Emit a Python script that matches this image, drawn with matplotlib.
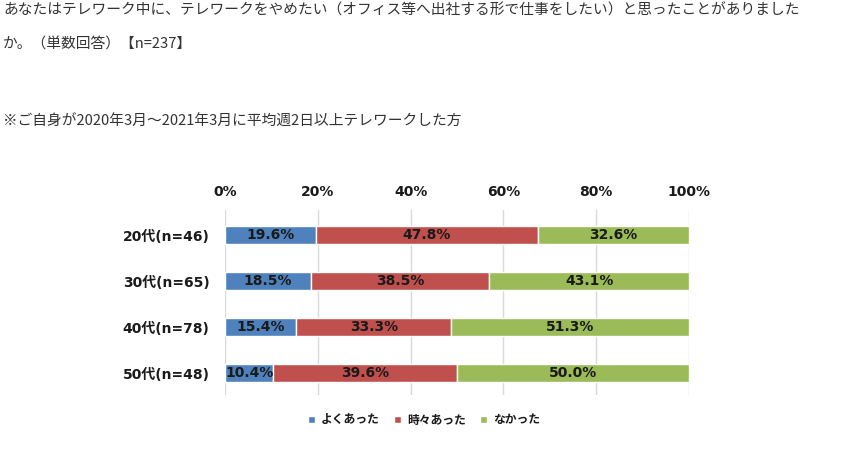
import matplotlib.pyplot as plt
import numpy as np

plt.rcParams['font.family'] = ['DejaVu Sans', 'Noto Sans CJK JP']

# データ
groups = ['20代(n=46)', '30代(n=65)', '40代(n=78)', '50代(n=48)']
often = [19.6, 18.5, 15.4, 10.4]
sometimes = [47.8, 38.5, 33.3, 39.6]
never = [32.6, 43.1, 51.3, 50.0]
series_names = ['よくあった', '時々あった', 'なかった']
colors = ['#4F81BD', '#C0504D', '#9BBB59']

fig = plt.figure(figsize=(8.43, 4.58), dpi=100)

# 上の説明文
txt_font = ['Noto Sans CJK JP', 'DejaVu Sans']
fig.text(3/843, 1 - 10/458, 'あなたはテレワーク中に、テレワークをやめたい（オフィス等へ出社する形で仕事をしたい）と思ったことがありました',
         fontsize=10.6, color='#333333', va='center', ha='left', family=txt_font)
fig.text(3/843, 1 - 45/458, 'か。（単数回答）【n=237】',
         fontsize=10.6, color='#333333', va='center', ha='left', family=txt_font)
fig.text(3/843, 1 - 122/458, '※ご自身が2020年3月～2021年3月に平均週2日以上テレワークした方',
         fontsize=10.6, color='#333333', va='center', ha='left', family=txt_font)

ax = fig.add_axes([225/843, 1 - 395/458, 464/843, 185/458])

y = np.arange(len(groups))
left = np.zeros(len(groups))
for vals, name, c in zip([often, sometimes, never], series_names, colors):
    vals = np.array(vals)
    ax.barh(y, vals, left=left, height=0.39, color=c, edgecolor='white', linewidth=1, label=name, zorder=3)
    for yi, l, v in zip(y, left, vals):
        ax.text(l + v / 2, yi, f'{v:.1f}%', ha='center', va='center',
                fontsize=10, fontweight='bold', color='#1a1a1a', zorder=4)
    left += vals

ax.set_xlim(0, 100)
ax.set_ylim(3.48, -0.55)
ax.set_yticks(y)
ax.set_yticklabels(groups, fontsize=10, fontweight='bold', color='#1a1a1a')
ax.set_xticks(np.arange(0, 101, 20))
ax.set_xticklabels([f'{t}%' for t in range(0, 101, 20)], fontsize=10, fontweight='bold', color='#1a1a1a')
ax.xaxis.tick_top()
ax.tick_params(length=0)
ax.tick_params(axis='y', pad=11)
ax.tick_params(axis='x', pad=8)
ax.grid(axis='x', color='#D9D9D9', linewidth=1, zorder=0)
for s in ax.spines.values():
    s.set_visible(False)

leg = fig.legend(loc='center', bbox_to_anchor=(424/843, 1 - 420/458), ncol=3, frameon=False,
                 handlelength=0.6, handleheight=0.6, handletextpad=0.5, columnspacing=1.2,
                 prop={'size': 8.5, 'weight': 'bold', 'family': ['Noto Sans CJK JP', 'DejaVu Sans']})
for t in leg.get_texts():
    t.set_color('#1a1a1a')

fig.savefig('out.png', dpi=100, facecolor='white')
